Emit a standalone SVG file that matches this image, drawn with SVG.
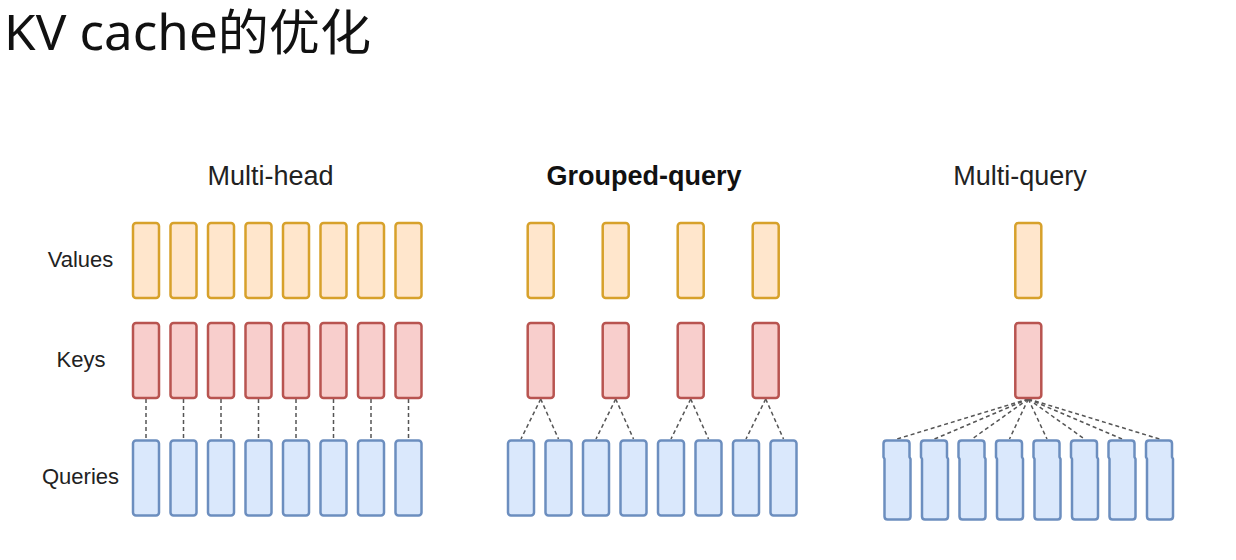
<svg xmlns="http://www.w3.org/2000/svg" width="1236" height="560" viewBox="0 0 1236 560">
  <defs>
    <style>
      .title{font-family:"Noto Sans","Noto Sans CJK SC",sans-serif;font-size:49px;fill:#111}
      .hdr{font-family:"Liberation Sans",Arial,sans-serif;font-size:27px;fill:#222;text-anchor:middle}
      .hdrb{font-weight:bold;fill:#111}
      .lbl{font-family:"Liberation Sans",Arial,sans-serif;font-size:22px;fill:#222;text-anchor:middle}
      .v{fill:#ffe6cc;stroke:#d7a12b;stroke-width:2.5}
      .k{fill:#f8cecc;stroke:#b85450;stroke-width:2.5}
      .q{fill:#dae8fc;stroke:#6c8ebf;stroke-width:2.5}
      .dash{stroke:#555;stroke-width:1.5;stroke-dasharray:4 3;fill:none}
    </style>
  </defs>
  <rect width="1236" height="560" fill="#ffffff"/>
  <text class="title" x="4" y="50" textLength="367" lengthAdjust="spacingAndGlyphs">KV cache的优化</text>

  <g id="headers">
    <text class="hdr" x="270.5" y="185">Multi-head</text>
    <text class="hdr hdrb" x="644" y="185">Grouped-query</text>
    <text class="hdr" x="1020" y="185">Multi-query</text>
  </g>
  <g id="row-labels">
    <text class="lbl" x="80.5" y="267">Values</text>
    <text class="lbl" x="81" y="367">Keys</text>
    <text class="lbl" x="80.5" y="484">Queries</text>
  </g>

  <g id="connectors">
    <!-- multi-head -->
    <line class="dash" x1="146" y1="399" x2="146" y2="440"/>
    <line class="dash" x1="183.5" y1="399" x2="183.5" y2="440"/>
    <line class="dash" x1="221" y1="399" x2="221" y2="440"/>
    <line class="dash" x1="258.5" y1="399" x2="258.5" y2="440"/>
    <line class="dash" x1="296" y1="399" x2="296" y2="440"/>
    <line class="dash" x1="333.5" y1="399" x2="333.5" y2="440"/>
    <line class="dash" x1="371" y1="399" x2="371" y2="440"/>
    <line class="dash" x1="408.5" y1="399" x2="408.5" y2="440"/>
    <!-- grouped-query -->
    <line class="dash" x1="540.7" y1="399" x2="521" y2="439"/>
    <line class="dash" x1="540.7" y1="399" x2="558.5" y2="439"/>
    <line class="dash" x1="615.7" y1="399" x2="596" y2="439"/>
    <line class="dash" x1="615.7" y1="399" x2="633.5" y2="439"/>
    <line class="dash" x1="690.7" y1="399" x2="671" y2="439"/>
    <line class="dash" x1="690.7" y1="399" x2="708.5" y2="439"/>
    <line class="dash" x1="765.7" y1="399" x2="746" y2="439"/>
    <line class="dash" x1="765.7" y1="399" x2="783.5" y2="439"/>
    <!-- multi-query -->
    <line class="dash" x1="1028.3" y1="399" x2="897" y2="439"/>
    <line class="dash" x1="1028.3" y1="399" x2="934.5" y2="439"/>
    <line class="dash" x1="1028.3" y1="399" x2="972" y2="439"/>
    <line class="dash" x1="1028.3" y1="399" x2="1009.5" y2="439"/>
    <line class="dash" x1="1028.3" y1="399" x2="1047" y2="439"/>
    <line class="dash" x1="1028.3" y1="399" x2="1084.5" y2="439"/>
    <line class="dash" x1="1028.3" y1="399" x2="1122" y2="439"/>
    <line class="dash" x1="1028.3" y1="399" x2="1159.5" y2="439"/>
  </g>

  <g id="multi-head">
    <g id="mh-values">
      <rect class="v" x="133" y="223" width="26" height="75" rx="3"/>
      <rect class="v" x="170.5" y="223" width="26" height="75" rx="3"/>
      <rect class="v" x="208" y="223" width="26" height="75" rx="3"/>
      <rect class="v" x="245.5" y="223" width="26" height="75" rx="3"/>
      <rect class="v" x="283" y="223" width="26" height="75" rx="3"/>
      <rect class="v" x="320.5" y="223" width="26" height="75" rx="3"/>
      <rect class="v" x="358" y="223" width="26" height="75" rx="3"/>
      <rect class="v" x="395.5" y="223" width="26" height="75" rx="3"/>
    </g>
    <g id="mh-keys">
      <rect class="k" x="133" y="323" width="26" height="75" rx="3"/>
      <rect class="k" x="170.5" y="323" width="26" height="75" rx="3"/>
      <rect class="k" x="208" y="323" width="26" height="75" rx="3"/>
      <rect class="k" x="245.5" y="323" width="26" height="75" rx="3"/>
      <rect class="k" x="283" y="323" width="26" height="75" rx="3"/>
      <rect class="k" x="320.5" y="323" width="26" height="75" rx="3"/>
      <rect class="k" x="358" y="323" width="26" height="75" rx="3"/>
      <rect class="k" x="395.5" y="323" width="26" height="75" rx="3"/>
    </g>
    <g id="mh-queries">
      <rect class="q" x="133" y="440.5" width="26" height="75" rx="3"/>
      <rect class="q" x="170.5" y="440.5" width="26" height="75" rx="3"/>
      <rect class="q" x="208" y="440.5" width="26" height="75" rx="3"/>
      <rect class="q" x="245.5" y="440.5" width="26" height="75" rx="3"/>
      <rect class="q" x="283" y="440.5" width="26" height="75" rx="3"/>
      <rect class="q" x="320.5" y="440.5" width="26" height="75" rx="3"/>
      <rect class="q" x="358" y="440.5" width="26" height="75" rx="3"/>
      <rect class="q" x="395.5" y="440.5" width="26" height="75" rx="3"/>
    </g>
  </g>

  <g id="grouped-query">
    <g id="gq-values">
      <rect class="v" x="527.7" y="223" width="26" height="75" rx="3"/>
      <rect class="v" x="602.7" y="223" width="26" height="75" rx="3"/>
      <rect class="v" x="677.7" y="223" width="26" height="75" rx="3"/>
      <rect class="v" x="752.7" y="223" width="26" height="75" rx="3"/>
    </g>
    <g id="gq-keys">
      <rect class="k" x="527.7" y="323" width="26" height="75" rx="3"/>
      <rect class="k" x="602.7" y="323" width="26" height="75" rx="3"/>
      <rect class="k" x="677.7" y="323" width="26" height="75" rx="3"/>
      <rect class="k" x="752.7" y="323" width="26" height="75" rx="3"/>
    </g>
    <g id="gq-queries">
      <rect class="q" x="508" y="440.5" width="26" height="75" rx="3"/>
      <rect class="q" x="545.5" y="440.5" width="26" height="75" rx="3"/>
      <rect class="q" x="583" y="440.5" width="26" height="75" rx="3"/>
      <rect class="q" x="620.5" y="440.5" width="26" height="75" rx="3"/>
      <rect class="q" x="658" y="440.5" width="26" height="75" rx="3"/>
      <rect class="q" x="695.5" y="440.5" width="26" height="75" rx="3"/>
      <rect class="q" x="733" y="440.5" width="26" height="75" rx="3"/>
      <rect class="q" x="770.5" y="440.5" width="26" height="75" rx="3"/>
    </g>
  </g>

  <g id="multi-query">
    <g id="mq-value">
      <rect class="v" x="1015.3" y="223" width="26" height="75" rx="3"/>
    </g>
    <g id="mq-key">
      <rect class="k" x="1015.3" y="323" width="26" height="75" rx="3"/>
    </g>
    <g id="mq-queries">
      <path class="q" d="M886.5,440.5 H906.5 Q909.5,440.5 909.5,443.5 V457 L910.5,459 V516.5 Q910.5,519.5 907.5,519.5 H887.5 Q884.5,519.5 884.5,516.5 V459 L883.5,457 V443.5 Q883.5,440.5 886.5,440.5 Z"/>
      <path class="q" transform="translate(37.5,0)" d="M886.5,440.5 H906.5 Q909.5,440.5 909.5,443.5 V457 L910.5,459 V516.5 Q910.5,519.5 907.5,519.5 H887.5 Q884.5,519.5 884.5,516.5 V459 L883.5,457 V443.5 Q883.5,440.5 886.5,440.5 Z"/>
      <path class="q" transform="translate(75,0)" d="M886.5,440.5 H906.5 Q909.5,440.5 909.5,443.5 V457 L910.5,459 V516.5 Q910.5,519.5 907.5,519.5 H887.5 Q884.5,519.5 884.5,516.5 V459 L883.5,457 V443.5 Q883.5,440.5 886.5,440.5 Z"/>
      <path class="q" transform="translate(112.5,0)" d="M886.5,440.5 H906.5 Q909.5,440.5 909.5,443.5 V457 L910.5,459 V516.5 Q910.5,519.5 907.5,519.5 H887.5 Q884.5,519.5 884.5,516.5 V459 L883.5,457 V443.5 Q883.5,440.5 886.5,440.5 Z"/>
      <path class="q" transform="translate(150,0)" d="M886.5,440.5 H906.5 Q909.5,440.5 909.5,443.5 V457 L910.5,459 V516.5 Q910.5,519.5 907.5,519.5 H887.5 Q884.5,519.5 884.5,516.5 V459 L883.5,457 V443.5 Q883.5,440.5 886.5,440.5 Z"/>
      <path class="q" transform="translate(187.5,0)" d="M886.5,440.5 H906.5 Q909.5,440.5 909.5,443.5 V457 L910.5,459 V516.5 Q910.5,519.5 907.5,519.5 H887.5 Q884.5,519.5 884.5,516.5 V459 L883.5,457 V443.5 Q883.5,440.5 886.5,440.5 Z"/>
      <path class="q" transform="translate(225,0)" d="M886.5,440.5 H906.5 Q909.5,440.5 909.5,443.5 V457 L910.5,459 V516.5 Q910.5,519.5 907.5,519.5 H887.5 Q884.5,519.5 884.5,516.5 V459 L883.5,457 V443.5 Q883.5,440.5 886.5,440.5 Z"/>
      <path class="q" transform="translate(262.5,0)" d="M886.5,440.5 H906.5 Q909.5,440.5 909.5,443.5 V457 L910.5,459 V516.5 Q910.5,519.5 907.5,519.5 H887.5 Q884.5,519.5 884.5,516.5 V459 L883.5,457 V443.5 Q883.5,440.5 886.5,440.5 Z"/>
    </g>
  </g>
</svg>
